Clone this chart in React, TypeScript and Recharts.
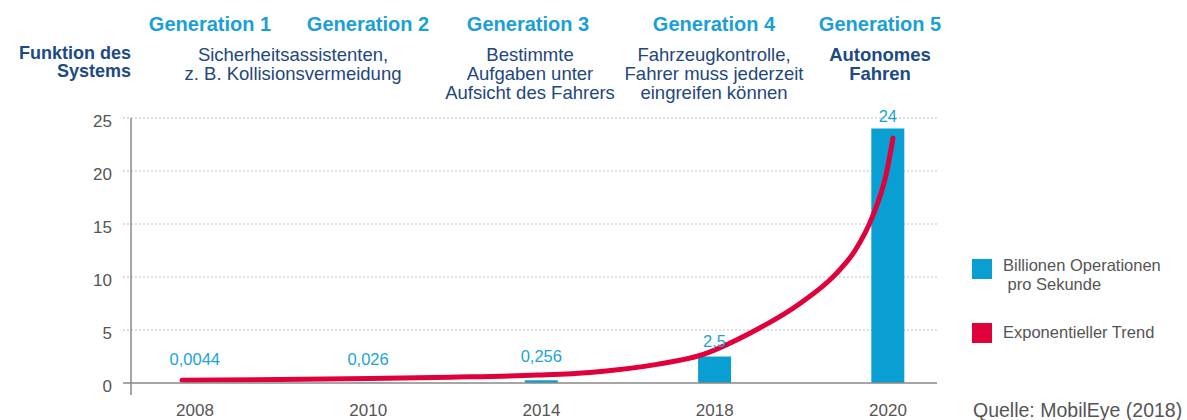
import React from 'react';
import { ComposedChart, Bar, Line, XAxis, YAxis, CartesianGrid, LabelList } from 'recharts';

const years = ['2008', '2010', '2014', '2018', '2020'];
const ops = [0.0044, 0.026, 0.256, 2.5, 24];
const opsLabels = ['0,0044', '0,026', '0,256', '2,5', '24'];
const trendPos = [-0.075, 0.491, 1.01, 1.472, 1.974, 2.28, 2.667, 2.915, 3.203, 3.492, 3.694, 3.81, 3.908, 3.994, 4.029];
const trendVal = [0.25, 0.32, 0.42, 0.55, 0.75, 1.0, 1.76, 2.6, 4.7, 7.5, 10.2, 12.5, 15.6, 20.0, 23.1];
const yTicks = [0, 5, 10, 15, 20, 25];
const generations = ['Generation 1', 'Generation 2', 'Generation 3', 'Generation 4', 'Generation 5'];

const barData = years.map((y, i) => ({ idx: i, ops: ops[i], label: opsLabels[i] }));
const trendData = trendPos.map((p, i) => ({ pos: p, trend: trendVal[i] }));

const FONT = '"Liberation Sans", Arial, Helvetica, sans-serif';
const BLUE = '#0a9fd3';
const LABEL_BLUE = '#1ba3d9';
const RED = '#e0003c';
const NAVY = '#23467e';
const NAVY_BOLD = '#1c4a86';
const GRAY = '#555555';
const X_DOMAIN: [number, number] = [-0.369, 4.283];

const genCenters = [210, 368, 528, 714, 880];

const YTick = (props: any) => {
  const { x, y, payload } = props;
  const v = payload.value;
  const lx1 = x + 11;
  const lx2 = x + 19;
  return (
    <g>
      {v === 0 ? (
        <g>
          <line x1={lx1} x2={lx2} y1={y} y2={y} stroke="#888" strokeWidth={1.5} />
          <line x1={lx2} x2={lx2} y1={y} y2={y + 12} stroke="#888" strokeWidth={1.5} />
        </g>
      ) : (
        <line x1={lx1} x2={lx2} y1={y} y2={y} stroke="#bbb" strokeDasharray="2 2" />
      )}
      <text x={x} y={y + 3} dy="0.355em" textAnchor="end" fill={GRAY} fontSize={17} fontFamily={FONT}>
        {v}
      </text>
    </g>
  );
};

const BarLabel = (props: any) => {
  const { x, y, width, value } = props;
  const off = value >= 10 ? 12 : value >= 1 ? 15 : 24;
  const idx = ops.indexOf(value);
  return (
    <text x={x + width / 2} y={y - off} dy="0.355em" textAnchor="middle" fill={LABEL_BLUE} fontSize={16.5} fontFamily={FONT}>
      {opsLabels[idx]}
    </text>
  );
};

const abs = (o: React.CSSProperties): React.CSSProperties => ({ position: 'absolute', fontFamily: FONT, margin: 0, ...o });

export default function App() {
  return (
    <div style={{ position: 'absolute', left: 0, top: 0, width: 1187, height: 420, background: '#fff', overflow: 'hidden' }}>
      <div style={abs({ left: 0, top: 0 })}>
        <ComposedChart width={1187} height={420} data={barData} margin={{ top: 118, right: 250, bottom: 7, left: 100 }}>
          <CartesianGrid vertical={false} stroke="#c4c4c4" strokeDasharray="2 2" horizontalValues={[5, 10, 15, 20, 25]} />
          <XAxis
            xAxisId="bars"
            type="number"
            dataKey="idx"
            domain={X_DOMAIN}
            allowDataOverflow
            ticks={[0, 1, 2, 3, 4]}
            tickFormatter={(v: number) => years[v]}
            tickLine={false}
            tickSize={0}
            tickMargin={21}
            height={30}
            axisLine={{ stroke: '#888', strokeWidth: 1.5 }}
            tick={{ fill: GRAY, fontSize: 17, fontFamily: FONT }}
            interval={0}
          />
          <XAxis
            xAxisId="trend"
            type="number"
            dataKey="pos"
            domain={X_DOMAIN}
            allowDataOverflow
            hide
            height={30}
          />
          <YAxis
            type="number"
            domain={[0, 25]}
            ticks={yTicks}
            width={31}
            tickSize={8}
            tickMargin={11}
            tickLine={false}
            axisLine={{ stroke: '#888', strokeWidth: 1.5 }}
            tick={<YTick />}
            interval={0}
          />
          <Bar xAxisId="bars" dataKey="ops" fill={BLUE} barSize={33} isAnimationActive={false}>
            <LabelList dataKey="ops" content={<BarLabel />} />
          </Bar>
          <Line
            xAxisId="trend"
            data={trendData}
            dataKey="trend"
            type="monotone"
            stroke={RED}
            strokeWidth={5}
            strokeLinecap="round"
            dot={false}
            activeDot={false}
            isAnimationActive={false}
          />
        </ComposedChart>
      </div>

      {generations.map((g, i) => (
        <div key={g} style={abs({ left: genCenters[i] - 100, width: 200, top: 12, lineHeight: '24px', fontSize: 20, fontWeight: 'bold', color: '#1a9fd6', textAlign: 'center' })}>
          {g}
        </div>
      ))}

      <div style={abs({ left: 0, width: 131, top: 44, lineHeight: '18px', fontSize: 18, fontWeight: 'bold', color: NAVY_BOLD, textAlign: 'right' })}>
        Funktion des<br />Systems
      </div>

      <div style={abs({ left: 143, width: 300, top: 44.5, lineHeight: '19px', fontSize: 18.5, color: NAVY, textAlign: 'center' })}>
        Sicherheitsassistenten,<br />z. B. Kollisionsvermeidung
      </div>
      <div style={abs({ left: 380, width: 300, top: 44.5, lineHeight: '19px', fontSize: 18.5, color: NAVY, textAlign: 'center' })}>
        Bestimmte<br />Aufgaben unter<br />Aufsicht des Fahrers
      </div>
      <div style={abs({ left: 564, width: 300, top: 44.5, lineHeight: '19px', fontSize: 18.5, color: NAVY, textAlign: 'center' })}>
        Fahrzeugkontrolle,<br />Fahrer muss jederzeit<br />eingreifen können
      </div>
      <div style={abs({ left: 780, width: 200, top: 44.5, lineHeight: '19px', fontSize: 18.5, fontWeight: 'bold', color: NAVY_BOLD, textAlign: 'center' })}>
        Autonomes<br />Fahren
      </div>

      <div style={abs({ left: 972, top: 259, width: 20, height: 20, background: BLUE })} />
      <div style={abs({ left: 1003, top: 256, lineHeight: '19px', fontSize: 16.5, color: GRAY, whiteSpace: 'pre' })}>
        {'Billionen Operationen\n pro Sekunde'}
      </div>
      <div style={abs({ left: 972, top: 323, width: 20, height: 20, background: RED })} />
      <div style={abs({ left: 1003, top: 322, lineHeight: '20px', fontSize: 16.5, color: GRAY, whiteSpace: 'pre' })}>
        Exponentieller Trend
      </div>
      <div style={abs({ left: 973, top: 398, lineHeight: '24px', fontSize: 19.5, color: GRAY, whiteSpace: 'pre' })}>
        Quelle: MobilEye (2018)
      </div>
    </div>
  );
}
